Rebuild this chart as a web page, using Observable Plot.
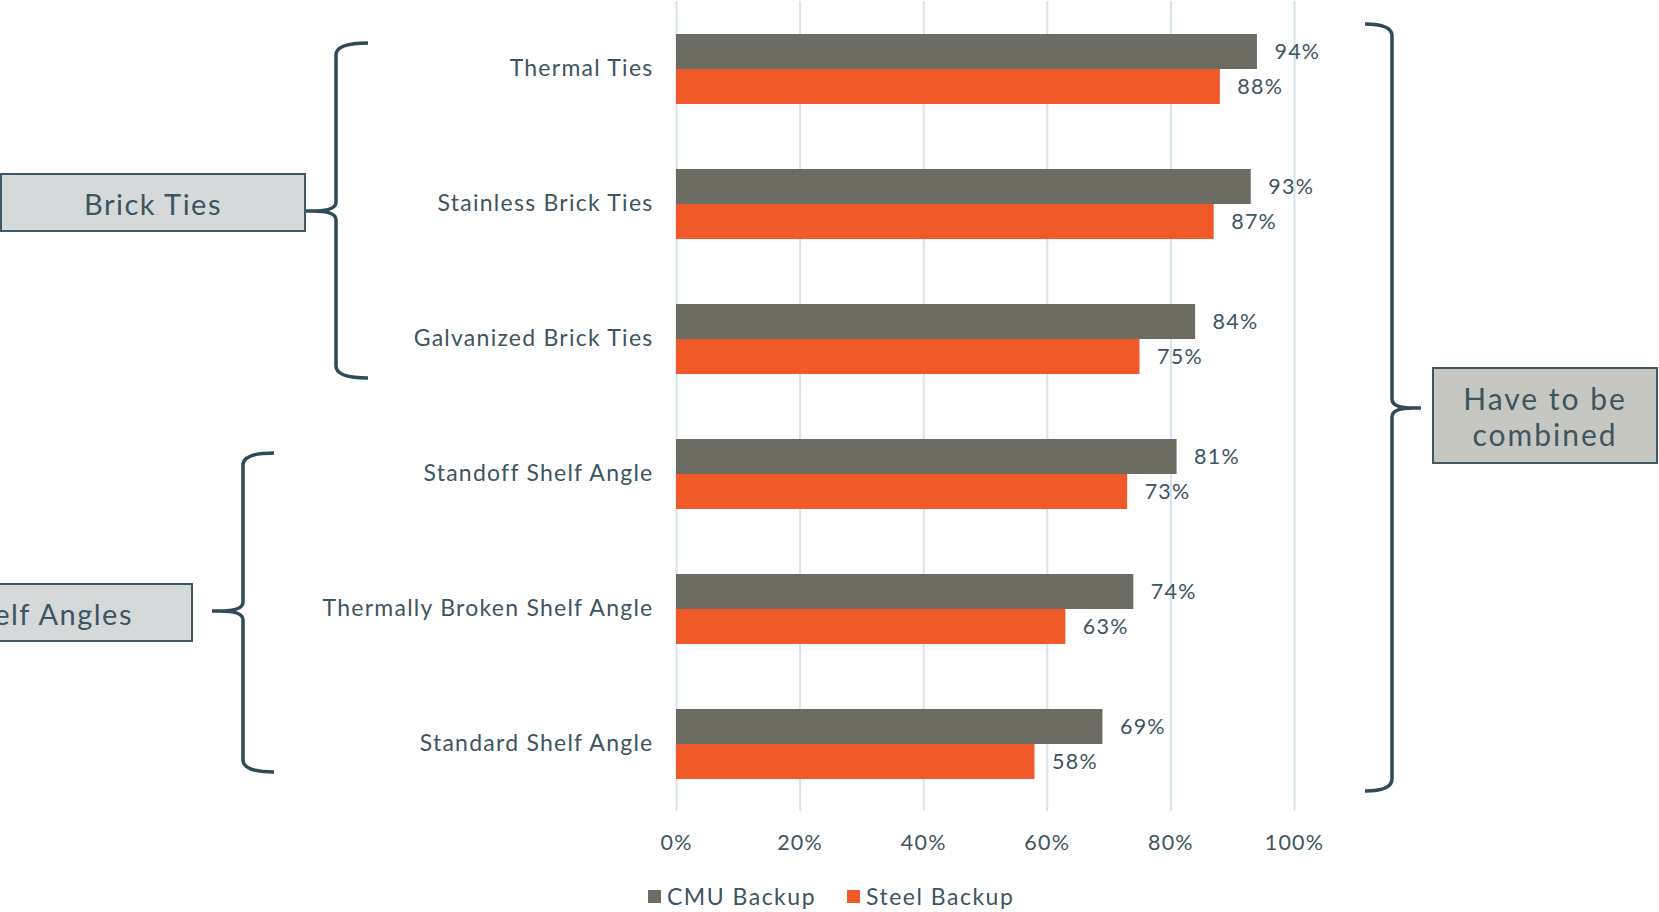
<!DOCTYPE html>
<html>
<head>
<meta charset="utf-8">
<script src="https://cdn.jsdelivr.net/npm/d3@7"></script>
<script src="https://cdn.jsdelivr.net/npm/@observablehq/plot@0.6"></script>
<style>
  html, body { margin: 0; padding: 0; background: #fff; }
  #wrap { position: relative; width: 1659px; height: 912px; overflow: hidden; font-family: Lato, "Open Sans", sans-serif; }
  #chart { position: absolute; left: 0; top: 0; }
  #overlay { position: absolute; left: 0; top: 0; pointer-events: none; }
  #legend { position: absolute; left: 648px; top: 882px; display: flex; align-items: center; font-size: 23px; letter-spacing: 1.5px; color: #3d5561; white-space: nowrap; }
  #legend .sw { display: inline-block; width: 13px; height: 13px; margin-right: 6px; }
  #legend .item { display: flex; align-items: center; margin-right: 31px; }
</style>
</head>
<body>
<div id="wrap">
  <div id="chart"></div>
  <svg id="overlay" width="1659" height="912"></svg>
  <div id="legend"></div>
</div>
<script>
const categories = ["Thermal Ties", "Stainless Brick Ties", "Galvanized Brick Ties", "Standoff Shelf Angle", "Thermally Broken Shelf Angle", "Standard Shelf Angle"];
const seriesNames = ["CMU Backup", "Steel Backup"];
const cmuBackup = [0.94, 0.93, 0.84, 0.81, 0.74, 0.69];
const steelBackup = [0.88, 0.87, 0.75, 0.73, 0.63, 0.58];
const xTicks = [0, 0.2, 0.4, 0.6, 0.8, 1.0];
const groupLabels = ["Brick Ties", "Shelf Angles"];
const combinedLabel = ["Have to be", "combined"];

const colors = ["#6d6c62", "#f05a28"];
const textColor = "#3d5561";

const rows = categories.flatMap((c, i) => [
  {category: c, series: seriesNames[0], value: cmuBackup[i]},
  {category: c, series: seriesNames[1], value: steelBackup[i]}
]);

const fmt = d3.format(".0%");

const plot = Plot.plot({
  width: 1659,
  height: 862,
  marginLeft: 676,
  marginRight: 365,
  marginTop: 0,
  marginBottom: 50,
  style: {fontFamily: "Lato, 'Open Sans', sans-serif", color: textColor, background: "transparent", letterSpacing: "1.25px"},
  x: {domain: [0, 1], ticks: xTicks, axis: null},
  y: {domain: seriesNames, paddingInner: 0, paddingOuter: 0.88, axis: null},
  fy: {domain: categories, padding: 0, axis: null},
  color: {domain: seriesNames, range: colors},
  marks: [
    Plot.gridX(xTicks, {stroke: "#d6e4ea", strokeOpacity: 1, strokeWidth: 2}),
    Plot.barX(rows, {x: "value", y: "series", fy: "category", fill: "series"}),
    Plot.text(rows, {x: "value", y: "series", fy: "category", text: d => fmt(d.value), dx: 17, textAnchor: "start", fontSize: 21.5, fill: textColor}),
    Plot.axisFy({anchor: "left", tickSize: 0, tickPadding: 23, fontSize: 23, fill: textColor, label: null}),
    Plot.axisX(xTicks, {anchor: "bottom", tickSize: 0, tickPadding: 23, fontSize: 21.5, tickFormat: fmt, fill: textColor, label: null})
  ]
});
document.getElementById("chart").appendChild(plot);

// Legend
const legend = d3.select("#legend");
seriesNames.forEach((s, i) => {
  const it = legend.append("div").attr("class", "item");
  it.append("span").attr("class", "sw").style("background", colors[i]);
  it.append("span").text(s);
});

// Annotations (braces and boxes)
const svg = d3.select("#overlay");
const braceColor = "#2e4b57";

function braceLeft(xv, xa, xt, top, bottom, mid) {
  const r = 12, r2 = 9;
  return `M${xa},${top} Q${xv},${top} ${xv},${top + r} L${xv},${mid - r2} Q${xv},${mid} ${xt + 8},${mid} L${xt},${mid} M${xt + 8},${mid} Q${xv},${mid} ${xv},${mid + r2} L${xv},${bottom - r} Q${xv},${bottom} ${xa},${bottom}`;
}
function braceRight(xv, xa, xt, top, bottom, mid) {
  const r = 12, r2 = 9;
  return `M${xa},${top} Q${xv},${top} ${xv},${top + r} L${xv},${mid - r2} Q${xv},${mid} ${xt - 8},${mid} L${xt},${mid} M${xt - 8},${mid} Q${xv},${mid} ${xv},${mid + r2} L${xv},${bottom - r} Q${xv},${bottom} ${xa},${bottom}`;
}

svg.append("path").attr("d", braceLeft(336, 368, 305, 43, 378, 211))
  .attr("fill", "none").attr("stroke", braceColor).attr("stroke-width", 3.5);
svg.append("path").attr("d", braceLeft(243, 274, 212, 453, 772, 611))
  .attr("fill", "none").attr("stroke", braceColor).attr("stroke-width", 3.5);
svg.append("path").attr("d", braceRight(1392, 1365, 1421, 24, 791, 408))
  .attr("fill", "none").attr("stroke", braceColor).attr("stroke-width", 3.5);

function box(x, y, w, h, fill) {
  svg.append("rect").attr("x", x).attr("y", y).attr("width", w).attr("height", h)
    .attr("fill", fill).attr("stroke", "#3c5965").attr("stroke-width", 2);
}
box(1, 174, 304, 57, "#d5d9da");
box(-115, 584, 307, 57, "#d5d9da");
box(1433, 368, 224, 95, "#c6c7c1");

svg.append("text").attr("x", 153).attr("y", 203).attr("text-anchor", "middle").attr("dominant-baseline", "central")
  .attr("font-family", "Lato, 'Open Sans', sans-serif").attr("font-size", 29).attr("letter-spacing", 1.5).attr("fill", textColor).text(groupLabels[0]);
svg.append("text").attr("x", 133).attr("y", 613).attr("text-anchor", "end").attr("dominant-baseline", "central")
  .attr("font-family", "Lato, 'Open Sans', sans-serif").attr("font-size", 29).attr("letter-spacing", 1.5).attr("fill", textColor).text(groupLabels[1]);
combinedLabel.forEach((t, i) => {
  svg.append("text").attr("x", 1545).attr("y", 398 + i * 36).attr("text-anchor", "middle").attr("dominant-baseline", "central")
    .attr("font-family", "Lato, 'Open Sans', sans-serif").attr("font-size", 30).attr("letter-spacing", 2).attr("fill", textColor).text(t);
});
</script>
</body>
</html>
